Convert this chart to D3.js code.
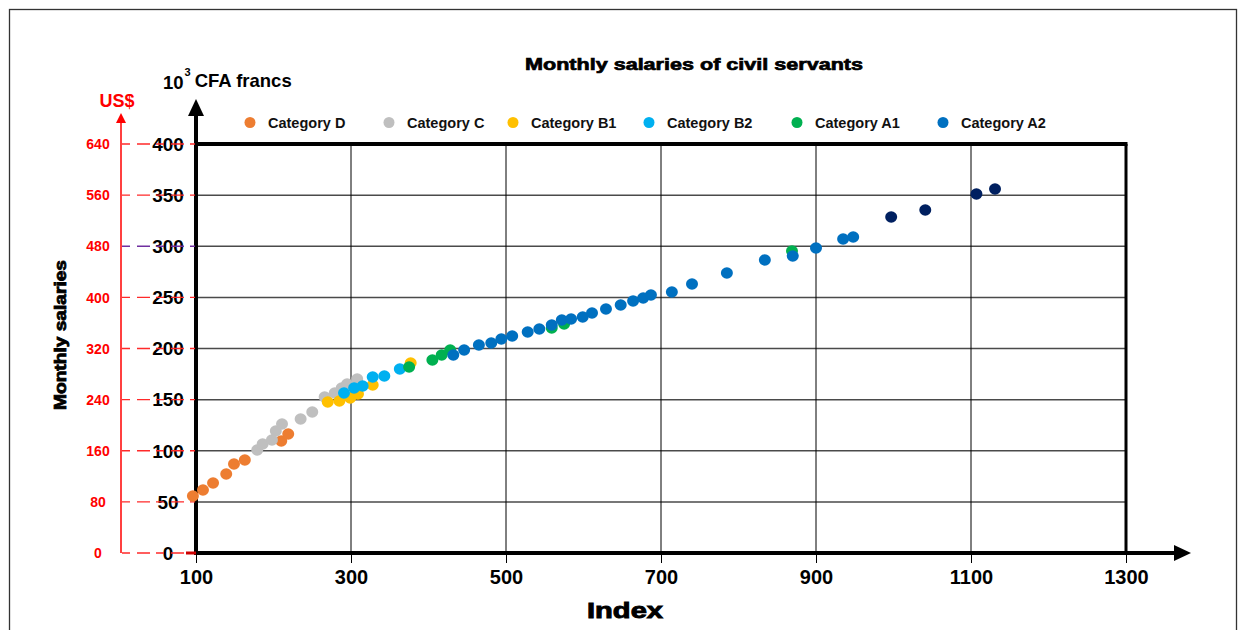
<!DOCTYPE html>
<html>
<head>
<meta charset="utf-8">
<script src="https://cdn.jsdelivr.net/npm/d3@7"></script>
<style>
  html, body { margin: 0; padding: 0; background: #ffffff; }
  svg { display: block; font-family: "Liberation Sans", Arial, sans-serif; }
</style>
</head>
<body>
<svg id="chart" width="1245" height="630"></svg>
<script>
// ---------- data (index, monthly salary in 10^3 CFA francs) ----------
const categoryD = [[96, 55.7], [109, 61.6], [122, 68.5], [139, 77.3], [149, 87], [163, 91], [210, 109.5], [219, 116.4]];
const categoryC = [[179, 100.7], [186, 106.6], [198, 110.5], [203, 119.3], [211, 126.2], [235, 131], [250, 137.9], [266, 152.6], [279, 156.5], [288, 161.4], [295, 165.3], [308, 170.2]];
const categoryB1 = [[270, 147.7], [285, 148.7], [299, 151.6], [309, 155.5], [328, 164.3], [377, 185.8]];
const categoryB2 = [[291, 156.5], [304, 161.4], [315, 163.3], [328, 172.1], [343, 173.1], [363, 180]];
const categoryA1 = [[375, 181.9], [405, 188.8], [417, 193.6], [428, 198.5], [559, 220], [575, 224], [869, 295.4]];
const categoryA2 = [[432, 193.6], [446, 198.5], [465, 203.4], [481, 205.4], [494, 209.3], [508, 212.2], [528, 216.1], [543, 219.1], [559, 223], [572, 227.9], [584, 228.9], [599, 230.8], [611, 234.7], [629, 238.6], [648, 242.5], [664, 246.5], [677, 249.4], [687, 252.3], [714, 255.3], [740, 263.1], [785, 273.8], [834, 286.6], [870, 290.5], [900, 298.3], [935, 307.1], [948, 309]];
const categoryA2Top = [[997, 328.6], [1041, 335.4], [1107, 351.1], [1131, 356]];

const legendLabels = ["Category D", "Category C", "Category B1", "Category B2", "Category A1", "Category A2"];
const xTicks = [100, 300, 500, 700, 900, 1100, 1300];
const yTicks = [0, 50, 100, 150, 200, 250, 300, 350, 400];
const usdTicks = [0, 80, 160, 240, 320, 400, 480, 560, 640];

const seriesColors = ["#ED7D31", "#BFBFBF", "#FFC000", "#00B0F0", "#00B050", "#0070C0", "#002060"];

// ---------- setup ----------
const svg = d3.select("#chart");
const x = d3.scaleLinear().domain([100, 1300]).range([196, 1126]);
const y = d3.scaleLinear().domain([0, 400]).range([553, 144]);
const yUsd = d3.scaleLinear().domain([0, 640]).range([553, 144]);

// outer frame
svg.append("rect").attr("x", 9.5).attr("y", 9.5).attr("width", 1227).attr("height", 640)
  .attr("fill", "none").attr("stroke", "#333").attr("stroke-width", 1.3);

// title
svg.append("text").attr("x", 694).attr("y", 70).attr("text-anchor", "middle")
  .attr("font-size", 17).attr("font-weight", "bold")
  .attr("stroke", "#000").attr("stroke-width", 0.7)
  .attr("textLength", 338).attr("lengthAdjust", "spacingAndGlyphs")
  .text("Monthly salaries of civil servants");

// grid lines
const grid = svg.append("g");
grid.selectAll("line.h").data(yTicks.filter(d => d > 0 && d < 400)).join("line")
  .attr("x1", x(100)).attr("x2", x(1300)).attr("y1", d => y(d)).attr("y2", d => y(d))
  .attr("stroke", "#4a4a4a").attr("stroke-width", 1.5);
grid.selectAll("line.v").data(xTicks.filter(d => d > 100 && d < 1300)).join("line")
  .attr("x1", d => x(d)).attr("x2", d => x(d)).attr("y1", y(400)).attr("y2", y(0))
  .attr("stroke", "#000").attr("stroke-width", 1);

// plot box top and right
svg.append("line").attr("x1", x(100)).attr("x2", x(1300) + 1.5).attr("y1", y(400)).attr("y2", y(400))
  .attr("stroke", "#000").attr("stroke-width", 4);
svg.append("line").attr("x1", x(1300)).attr("x2", x(1300)).attr("y1", y(400)).attr("y2", y(0))
  .attr("stroke", "#000").attr("stroke-width", 3);

// US$ axis (red)
const usdAxis = svg.append("g").attr("transform", "translate(121,0)")
  .call(d3.axisLeft(yUsd).tickValues(usdTicks).tickSize(0).tickFormat(d3.format("d")));
usdAxis.select(".domain").remove();
usdAxis.append("line").attr("x1", 0).attr("x2", 0).attr("y1", yUsd(0)).attr("y2", 120)
  .attr("stroke", "#ff0000").attr("stroke-width", 1.5);
usdAxis.append("path").attr("d", "M0,113 L-5,123 L5,123 Z").attr("fill", "#ff0000");
usdAxis.selectAll(".tick text").attr("x", -23).attr("dy", "0.33em").attr("text-anchor", "middle")
  .attr("fill", "#ff0000").attr("font-size", 14).attr("font-weight", "bold")
  .attr("font-family", "Liberation Sans, Arial, sans-serif");
svg.append("text").attr("x", 117).attr("y", 107).attr("text-anchor", "middle")
  .attr("fill", "#ff0000").attr("font-size", 18).attr("font-weight", "bold").text("US$");

// CFA axis (black)
const cfaAxis = svg.append("g").attr("transform", "translate(196,0)")
  .call(d3.axisLeft(y).tickValues(yTicks).tickSize(0));
cfaAxis.select(".domain").remove();
cfaAxis.selectAll(".tick text").attr("x", -28).attr("dy", "0.33em").attr("text-anchor", "middle")
  .attr("fill", "#000").attr("font-size", 19).attr("font-weight", "bold")
  .attr("font-family", "Liberation Sans, Arial, sans-serif");
cfaAxis.append("line").attr("x1", 0).attr("x2", 0).attr("y1", y(0) + 2).attr("y2", 112)
  .attr("stroke", "#000").attr("stroke-width", 4);
cfaAxis.append("path").attr("d", "M0,99 L-8,116 L8,116 Z").attr("fill", "#000");

// red dashed connectors between the two y axes (drawn over the labels)
svg.append("g").selectAll("line").data(yTicks).join("line")
  .attr("x1", 122).attr("x2", 195).attr("y1", d => y(d)).attr("y2", d => y(d))
  .attr("stroke", d => d === 300 ? "#7030A0" : "#ff2a2a").attr("stroke-width", 1.4)
  .attr("stroke-dasharray", "8 7 13 6");

const unitLabel = svg.append("text").attr("x", 163).attr("y", 89)
  .attr("font-size", 18.5).attr("font-weight", "bold").attr("fill", "#000");
unitLabel.append("tspan").text("10");
unitLabel.append("tspan").attr("dy", -13).attr("dx", 1).attr("font-size", 11).text("3");
unitLabel.append("tspan").attr("dy", 11).attr("dx", 4).text("CFA francs");

// x axis
const xAxis = svg.append("g").attr("transform", `translate(0,${y(0)})`)
  .call(d3.axisBottom(x).tickValues(xTicks).tickSize(10).tickPadding(7).tickFormat(d3.format("d")));
xAxis.select(".domain").remove();
xAxis.selectAll(".tick line").attr("stroke", "#000").attr("stroke-width", 1);
xAxis.selectAll(".tick text").attr("fill", "#000").attr("font-size", 20).attr("font-weight", "bold")
  .attr("font-family", "Liberation Sans, Arial, sans-serif");
xAxis.append("line").attr("x1", x(100) - 2).attr("x2", 1178).attr("y1", 0).attr("y2", 0)
  .attr("stroke", "#000").attr("stroke-width", 4);
xAxis.append("path").attr("d", "M1191,0 L1174,-8 L1174,8 Z").attr("fill", "#000");
xAxis.append("line").attr("x1", 186).attr("x2", 196).attr("y1", 0).attr("y2", 0)
  .attr("stroke", "#cc0000").attr("stroke-width", 3);

// axis titles
svg.append("text").attr("x", 625).attr("y", 618).attr("text-anchor", "middle")
  .attr("font-size", 22).attr("font-weight", "bold").attr("stroke", "#000").attr("stroke-width", 0.9)
  .attr("textLength", 76).attr("lengthAdjust", "spacingAndGlyphs").text("Index");
svg.append("text").attr("transform", "translate(66,335) rotate(-90)").attr("text-anchor", "middle")
  .attr("font-size", 16).attr("font-weight", "bold").attr("stroke", "#000").attr("stroke-width", 0.8)
  .attr("textLength", 150).attr("lengthAdjust", "spacingAndGlyphs").text("Monthly salaries");

// points
const allSeries = [categoryD, categoryC, categoryB1, categoryB2, categoryA1, categoryA2, categoryA2Top];
const pts = svg.append("g");
allSeries.forEach((series, i) => {
  pts.append("g").selectAll("ellipse").data(series).join("ellipse")
    .attr("cx", d => x(d[0])).attr("cy", d => y(d[1]))
    .attr("rx", 6).attr("ry", 5.7).attr("fill", seriesColors[i]);
});

// legend
const legendMarkerX = [250, 389, 513, 649, 797, 943];
const legend = svg.append("g");
legendLabels.forEach((lab, i) => {
  legend.append("circle").attr("cx", legendMarkerX[i]).attr("cy", 122.5).attr("r", 5.5).attr("fill", seriesColors[i]);
  legend.append("text").attr("x", legendMarkerX[i] + 18).attr("y", 127.5)
    .attr("font-size", 14.5).attr("font-weight", "bold").attr("fill", "#111").text(lab);
});
</script>
</body>
</html>
